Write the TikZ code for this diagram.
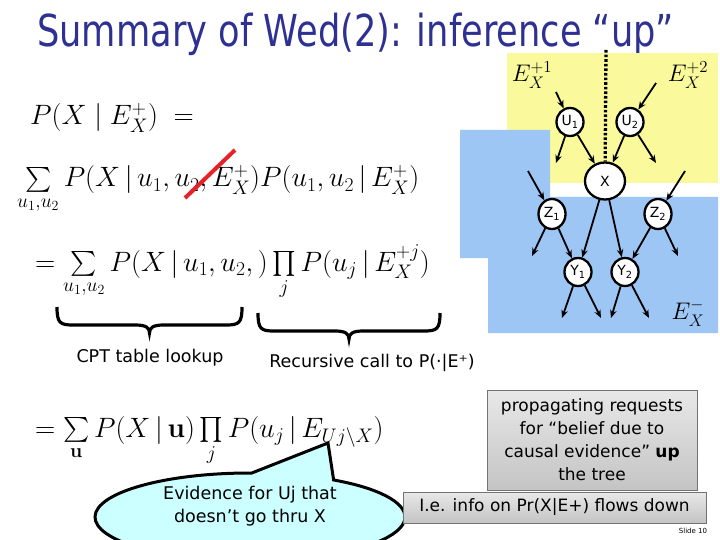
\RequirePackage{fix-cm}
\documentclass[tikz,border=0pt]{standalone}
\usepackage{exscale}
\usepackage[no-math]{fontspec}
\setmainfont{DejaVu Sans}
\newfontfamily\titlefont[FakeStretch=0.8]{DejaVu Sans}
\usetikzlibrary{shapes.geometric,shapes.callouts,arrows.meta}

\definecolor{TitleBlue}{HTML}{2E3192}
\definecolor{PlusYellow}{HTML}{FAFA9C}
\definecolor{MinusBlue}{HTML}{9DC6F5}
\definecolor{CalloutCyan}{HTML}{CCFFFF}
\definecolor{StrikeRed}{HTML}{E52228}
\definecolor{BoxTop}{HTML}{E8E8E8}
\definecolor{BoxBottom}{HTML}{C4C4C4}

\begin{document}
\begin{tikzpicture}[x=1pt,y=-1pt,
  bnnode/.style={ellipse,draw,line width=2.3pt,fill=white,minimum width=27pt,
    minimum height=28pt,inner sep=0pt,font=\fontsize{14}{14}\selectfont},
  arr/.style={line width=1.8pt,-{Stealth[length=8pt,width=6.5pt]}},
  eqn/.style={anchor=base west,inner sep=0pt,font=\fontsize{28}{32}\selectfont},
  txt/.style={align=center,inner sep=0pt,font=\fontsize{17.5}{23}\selectfont},
  greybox/.style={draw=black!55,line width=0.8pt,top color=BoxTop,bottom color=BoxBottom,
    align=center,inner sep=0pt,font=\fontsize{17}{23}\selectfont},
  ebrace/.style={line width=3.2pt}]

  % ===== Page =====
  \fill[white] (0,0) rectangle (720,540);
  \useasboundingbox (0,0) rectangle (720,540);
  \clip (0,0) rectangle (720,540);

  % ===== Title =====
  \node[anchor=base west,inner sep=0pt,text=TitleBlue,
        font=\titlefont\fontsize{44}{44}\selectfont] (title) at (37,47)
        {Summary of Wed(2): inference “up”};

  % ===== Evidence regions =====
  \fill[PlusYellow] (507,53) rectangle (718,183);
  \fill[MinusBlue] (460,130) -- (550,130) -- (550,197) -- (718,197) -- (718,333)
        -- (488,333) -- (488,258) -- (460,258) -- cycle;

  \node[font=\fontsize{24}{24}\selectfont] (Eplusa) at (532,75) {$E_X^{+1}$};
  \node[font=\fontsize{24}{24}\selectfont] (Eplusb) at (688,75) {$E_X^{+2}$};
  \node[font=\fontsize{24}{24}\selectfont] (Eminus) at (688,313) {$E_X^{-}$};

  % ===== Network =====
  \node[bnnode] (U1) at (570,122) {U\textsubscript{1}};
  \node[bnnode] (U2) at (630,122) {U\textsubscript{2}};
  \node[bnnode,minimum width=40pt,minimum height=37pt] (X) at (605,181) {X};
  \node[bnnode,minimum height=30pt] (Z1) at (552,214) {Z\textsubscript{1}};
  \node[bnnode,minimum height=30pt] (Z2) at (658,214) {Z\textsubscript{2}};
  \node[bnnode] (Y1) at (578,272) {Y\textsubscript{1}};
  \node[bnnode] (Y2) at (625,272) {Y\textsubscript{2}};

  \coordinate (dtop) at (606,50);
  \draw[line width=3.3pt,dash pattern=on 2.6pt off 2pt] (dtop) -- (X);

  % free ends
  \coordinate (u1in) at (556,92);
  \coordinate (u2in) at (656,83);
  \coordinate (u1out) at (556,163);
  \coordinate (u2out) at (656,163);
  \coordinate (z1in) at (528,171);
  \coordinate (z2in) at (685,171);
  \coordinate (z1out) at (532,256);
  \coordinate (z2out) at (678,256);
  \coordinate (y1a) at (562,318);
  \coordinate (y1b) at (601,318);
  \coordinate (y2a) at (611,318);
  \coordinate (y2b) at (649,318);

  \draw[arr] (u1in) -- (U1);
  \draw[arr] (u2in) -- (U2);
  \draw[arr] (z1in) -- (Z1);
  \draw[arr] (z2in) -- (Z2);
  \foreach \a/\b in {U1/u1out,U1/X,U2/X,U2/u2out,X/Y1,X/Y2,Z1/z1out,Z1/Y1,
                     Z2/Y2,Z2/z2out,Y1/y1a,Y1/y1b,Y2/y2a,Y2/y2b}{
    \draw[arr] (\a) -- (\b);
  }

  % ===== Equations =====
  \node[eqn] (eqA) at (30,125) {$P(X \mid E_X^+)\; =$};
  \node[eqn] (eqB) at (17,187)
    {$\sum\limits_{u_1,u_2} P(X\,|\,u_1,u_2,E_X^+)P(u_1,u_2\,|\,E_X^+)$};
  \node[eqn] (eqC) at (35,271)
    {$=\sum\limits_{u_1,u_2} P(X\,|\,u_1,u_2,)\prod\limits_j P(u_j\,|\,E_X^{+j})$};
  \node[eqn] (eqD) at (35,437)
    {$=\sum\limits_{\mathbf{u}} P(X\,|\,\mathbf{u})\prod\limits_j P(u_j\,|\,E_{Uj\backslash X})$};

  \draw[StrikeRed,line width=4pt] (185,198) -- (235,150);

  % ===== Braces =====
  \foreach \xa/\xb/\yt in {57/242/307,258/440/313}{
    \pgfmathsetmacro\xm{(\xa+\xb)/2}
    \draw[ebrace] (\xa,\yt) .. controls (\xa,\yt+16) and (\xa+3,\yt+18) .. (\xa+16,\yt+18)
      -- (\xm-14,\yt+18) .. controls (\xm-3,\yt+18) and (\xm,\yt+21) .. (\xm,\yt+26)
      .. controls (\xm,\yt+21) and (\xm+3,\yt+18) .. (\xm+14,\yt+18)
      -- (\xb-16,\yt+18) .. controls (\xb-3,\yt+18) and (\xb,\yt+16) .. (\xb,\yt);
  }

  \node[txt] (cpt) at (150,358) {CPT table lookup};
  \node[txt] (rec) at (372,363) {Recursive call to P(·|E⁺)};

  % ===== Callout =====
  \coordinate (tip) at (328,443);
  \node[ellipse callout,draw,line width=3pt,fill=CalloutCyan,minimum width=310pt,
        minimum height=88pt,callout absolute pointer=(tip),callout pointer arc=32]
        (evcall) at (250,517) {};
  \node[txt] (evtext) at (250,506) {Evidence for Uj that\\doesn’t go thru X};

  % ===== Boxes =====
  \node[greybox,minimum width=210pt,minimum height=100pt] (req) at (592,440)
    {propagating requests\\for “belief due to\\causal evidence” \textbf{up}\\the tree};
  \node[greybox,minimum width=303pt,minimum height=31pt] (flow) at (554.5,507.5)
    {I.e. info on Pr(X|E+) flows down};

  \node[inner sep=0pt,font=\fontsize{7}{7}\selectfont] (slide) at (693,531) {Slide 10};

\end{tikzpicture}
\end{document}
